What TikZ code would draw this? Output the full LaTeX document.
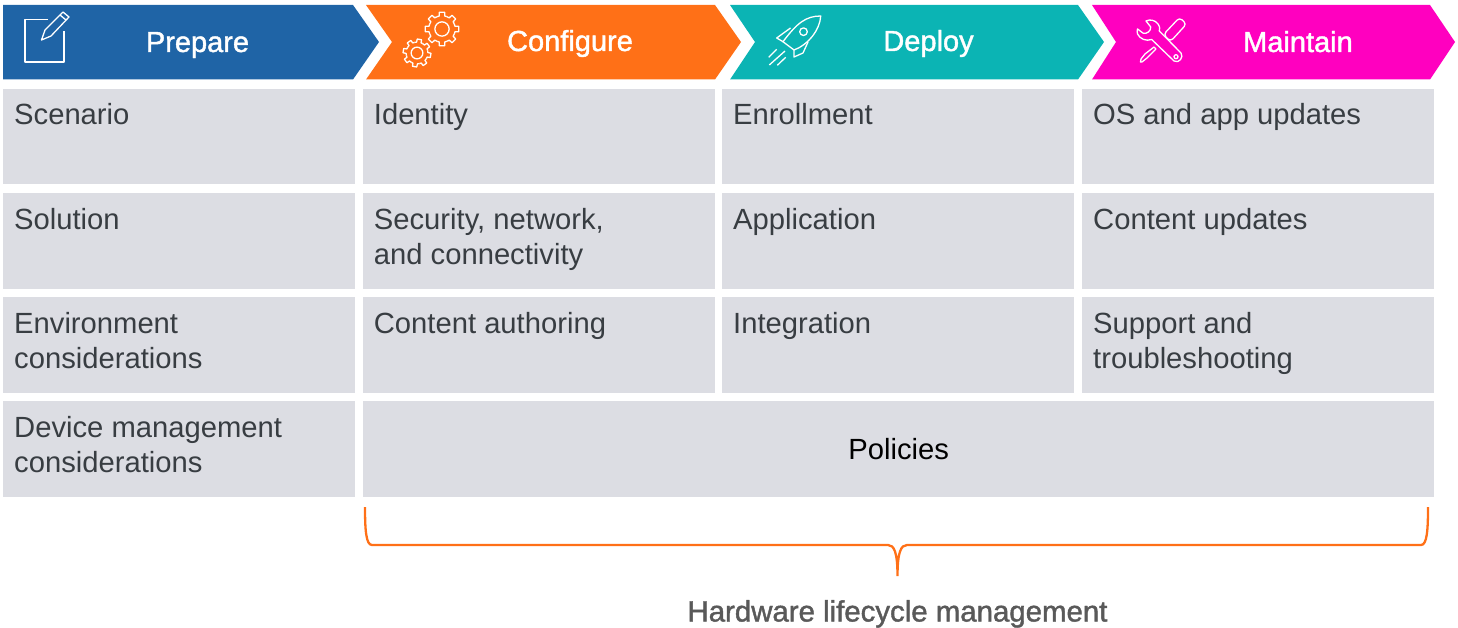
\documentclass[tikz,border=0pt]{standalone}
\usepackage{xcolor}
\usepackage{fontspec}
\setmainfont{Liberation Sans}
\newfontfamily\headfont[FakeBold=1.4]{Liberation Sans}
\definecolor{prepareblue}{HTML}{1F64A6}
\definecolor{configorange}{HTML}{FF7017}
\definecolor{deployteal}{HTML}{0BB4B4}
\definecolor{maintainpink}{HTML}{FF00BF}
\definecolor{cellgray}{HTML}{DCDDE3}
\definecolor{celltextcol}{HTML}{383D42}
\definecolor{footgray}{HTML}{595959}
\newcommand{\celltext}[1]{\parbox[c][95.5pt][t]{330pt}{\rule{0pt}{36.2pt}#1}}
\newcommand{\gearicon}[4]{%
    \foreach \a in {0,45,...,315} {
        \draw[icon] ([shift={(#1,#2)}]\a+#4-24:#3*0.78) arc[start angle=\a+#4-24, end angle=\a+#4-12, radius=#3*0.78]
            -- ([shift={(#1,#2)}]\a+#4-9:#3) -- ([shift={(#1,#2)}]\a+#4+9:#3)
            -- ([shift={(#1,#2)}]\a+#4+12:#3*0.78) arc[start angle=\a+#4+12, end angle=\a+#4+21, radius=#3*0.78];
    }
    \draw[icon] (#1,#2) circle[radius=#3*0.42];
}
\tikzset{
    cell/.style={fill=cellgray, anchor=north west, inner xsep=11pt, inner ysep=0pt,
        text=celltextcol, font=\fontsize{29.2}{35}\selectfont},
    wide cell/.style={fill=cellgray, anchor=north west, minimum width=1071pt, minimum height=96pt,
        inner sep=0pt, text=black, font=\fontsize{29.2}{35}\selectfont},
    heading/.style={text=white, inner sep=0pt, anchor=base, font=\headfont\fontsize{29}{35}\selectfont},
    icon/.style={draw=white, line width=1.3pt, line join=round},
    brace line/.style={draw=configorange, line width=2.3pt},
    foot/.style={text=footgray, inner sep=0pt, anchor=base, font=\headfont\fontsize{29.4}{32}\selectfont}
}

\begin{document}
\begin{tikzpicture}[x=1pt, y=-1pt]
    \useasboundingbox (0,0) rectangle (1458,628);
    % chevrons
    \fill[prepareblue] (3,5) -- (353,5) -- (379,42) -- (353,79.5) -- (3,79.5) -- cycle;
    \fill[configorange] (366,5) -- (715,5) -- (741,42) -- (715,79.5) -- (366,79.5) -- (392,42) -- cycle;
    \fill[deployteal] (730,5) -- (1078,5) -- (1104,42) -- (1078,79.5) -- (730,79.5) -- (755,42) -- cycle;
    \fill[maintainpink] (1092,5) -- (1430,5) -- (1455,42) -- (1430,79.5) -- (1092,79.5) -- (1116,42) -- cycle;
    \node[heading] (prepare) at (197.5,52) {Prepare};
    \node[heading] (configure) at (570,51) {Configure};
    \node[heading] (deploy) at (928.5,51) {Deploy};
    \node[heading] (maintain) at (1298,52) {Maintain};
    % prepare icon
    \draw[icon] (48,19.5) -- (25,19.5) -- (25,62) -- (64,62) -- (64,31);
    \draw[icon] (41.5,40) -- (45,30) -- (63,12) -- (69,17) -- (51,36) -- cycle;
    \draw[icon] (60,15) -- (66,20);
    % configure icon
    \gearicon{442}{29}{17}{0}
    \gearicon{417}{53}{14}{10}
    % deploy icon
    \draw[icon] (820.7,16) .. controls (806,16) and (797,23) .. (783,41.7) -- (794,50)
        .. controls (808,45) and (820,30) .. (820.7,16) -- cycle;
    \draw[icon] (803.5,31.7) circle[radius=3.8];
    \draw[icon] (790.5,28) -- (776.7,38) -- (783,41.7);
    \draw[icon] (794,50) -- (794,57) -- (803,53) -- (808,42);
    \draw[icon] (776.7,49.3) -- (768.7,57.3);
    \draw[icon] (785,51) -- (769.3,65);
    \draw[icon] (785.7,57.3) -- (777.3,65.3);
    % maintain icon
    \draw[icon] (1146,21) .. controls (1150,19) and (1155,20) .. (1158,24)
        .. controls (1160,27) and (1160,29) .. (1159.3,31) -- (1181,53)
        .. controls (1184,57) and (1179,64) .. (1174,61) -- (1151.7,39.5)
        .. controls (1146,41.5) and (1140,39) .. (1137.5,34)
        .. controls (1137,32) and (1137,30) .. (1137.5,29)
        -- (1143.3,33.3) .. controls (1147,34) and (1151,31) .. (1150.7,27) -- cycle;
    \draw[icon] (1176,56.7) circle[radius=2];
    \draw[icon, rounded corners=3.5pt] (1163.5,34.5) -- (1179.5,17.5) -- (1186.5,24) -- (1170.5,41.5) -- cycle;
    \draw[icon] (1154,47) -- (1156,49) -- (1147,58) -- (1142,62) -- (1140.5,62) -- (1141,59) -- (1145,54) -- cycle;
    % first column
    \node[cell] (scenario) at (3,88.5) {\celltext{Scenario}};
    \node[cell] (solution) at (3,193) {\celltext{Solution}};
    \node[cell] (environment) at (3,297) {\celltext{Environment\\considerations}};
    \node[cell] (devicemgmt) at (3,401) {\celltext{Device management\\considerations}};
    % second column
    \node[cell] (identity) at (362.7,88.5) {\celltext{Identity}};
    \node[cell] (security) at (362.7,193) {\celltext{Security, network,\\and connectivity}};
    \node[cell] (authoring) at (362.7,297) {\celltext{Content authoring}};
    % third column
    \node[cell] (enrollment) at (722,88.5) {\celltext{Enrollment}};
    \node[cell] (application) at (722,193) {\celltext{Application}};
    \node[cell] (integration) at (722,297) {\celltext{Integration}};
    % fourth column
    \node[cell] (osupdates) at (1082,88.5) {\celltext{OS and app updates}};
    \node[cell] (contentupdates) at (1082,193) {\celltext{Content updates}};
    \node[cell] (support) at (1082,297) {\celltext{Support and\\troubleshooting}};
    \node[wide cell] (policies) at (363,401) {Policies};
    % brace under the last three phases
    \node[foot] (hardware) at (897.5,621.5) {Hardware lifecycle management};
    \coordinate (braceleft) at (365,507);
    \coordinate (braceright) at (1428,507);
    \coordinate (bracetip) at (897.5,576);
    \draw[brace line] (braceleft) .. controls (365,530) and (366,545) .. (372,545) -- (888,545)
        .. controls (894,545) and (897.5,552) .. (bracetip)
        .. controls (897.5,552) and (901,545) .. (907,545) -- (1421,545)
        .. controls (1427,545) and (1428,530) .. (braceright);
\end{tikzpicture}
\end{document}
